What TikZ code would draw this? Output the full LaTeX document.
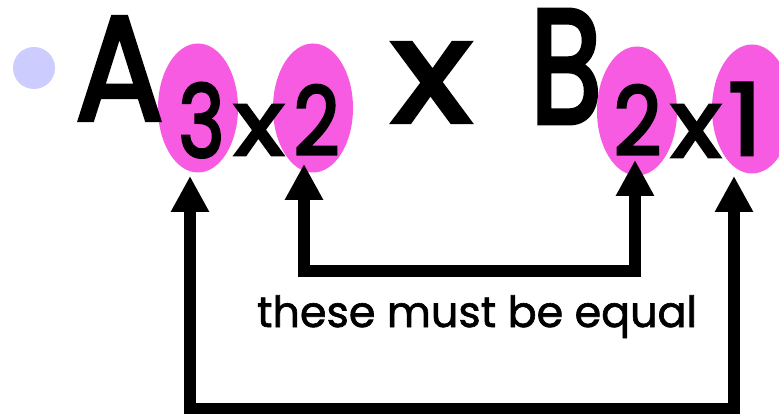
\documentclass[tikz,border=0pt]{standalone}
\usepackage{fontspec}
\setmainfont{Poppins}
\newfontfamily\heavyfont[FakeBold=3]{Poppins}
\newfontfamily\labelfont[FakeBold=1.5]{Poppins}
\usetikzlibrary{shapes.geometric,arrows.meta}
\definecolor{bulletblue}{RGB}{204,204,255}
\definecolor{pinkfill}{RGB}{247,91,225}
\tikzset{
  blob/.style={ellipse,fill=pinkfill,inner sep=0pt,minimum width=80pt,minimum height=129pt},
  glyph/.style={anchor=base,inner sep=0pt,outer sep=0pt,font=\heavyfont},
  conn/.style={line width=12pt,line join=miter,{Triangle[width=36pt,length=36pt]}-{Triangle[width=36pt,length=36pt]}},
}
\newcommand{\gl}[3]{\resizebox{#1pt}{#2pt}{#3}}
\begin{document}
\begin{tikzpicture}[x=1pt,y=-1pt]
\useasboundingbox (0,0) rectangle (779,414);
% bullet
\fill[bulletblue] (34,68) circle (21);
% highlight ellipses
\node[blob] (e1) at (198,108) {};
\node[blob] (e2) at (313,108) {};
\node[blob] (e3) at (637,111) {};
\node[blob] (e4) at (752,109) {};
% main formula
\node[glyph] (A)  at (119.5,120) {\gl{88}{103}{A}};
\node[glyph] (a3) at (201.5,157) {\gl{46}{74}{3}};
\node[glyph] (ax) at (259,155) {\gl{50}{50}{x}};
\node[glyph] (a2) at (316.5,155) {\gl{46}{70}{2}};
\node[glyph] (mx) at (431.5,122) {\gl{80}{79}{x}};
\node[glyph] (B)  at (566,123) {\gl{72}{113}{B}};
\node[glyph] (b2) at (637.5,155) {\gl{48}{70}{2}};
\node[glyph] (bx) at (696,157) {\gl{50}{52}{x}};
\node[glyph] (b1) at (745,155) {\gl{34}{72}{1}};
% label
\node[glyph,font=\labelfont] (lab) at (477,327) {\resizebox{440pt}{!}{these must be equal}};
% connector points
\coordinate (t1) at (190,176);
\coordinate (t2) at (304,164);
\coordinate (t3) at (635,160);
\coordinate (t4) at (734,176);
\coordinate (c2) at (304,271);
\coordinate (c3) at (635,271);
\coordinate (c1) at (190,408.5);
\coordinate (c4) at (734,408.5);
\draw[conn] (t2) -- (c2) -- (c3) -- (t3);
\draw[conn] (t1) -- (c1) -- (c4) -- (t4);
\end{tikzpicture}
\end{document}
